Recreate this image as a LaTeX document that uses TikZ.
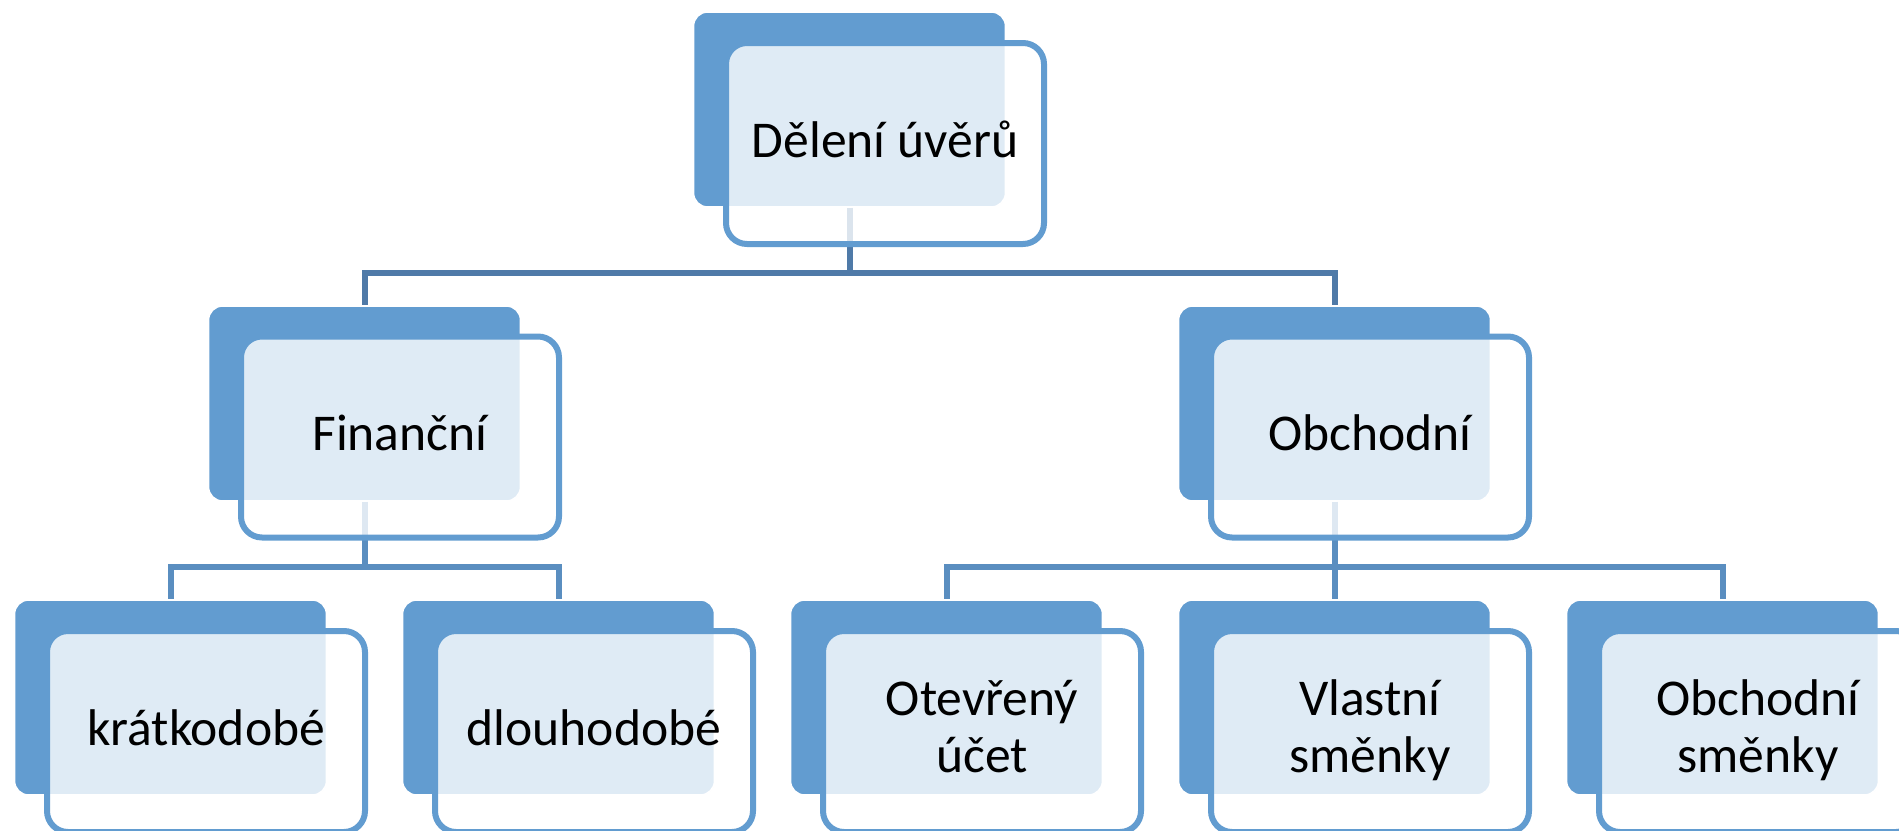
\documentclass[tikz,border=0pt]{standalone}
\usepackage{fontspec}
\setmainfont{Carlito}
\definecolor{boxblue}{RGB}{98,156,208}
\definecolor{linktop}{RGB}{79,122,168}
\definecolor{linkmid}{RGB}{90,142,192}
\newcommand{\twolines}[2]{\raisebox{0pt}[12pt][28.5pt]{\begin{tabular}[t]{@{}c@{}}#1\\#2\end{tabular}}}
\tikzset{
  backbox/.style={rectangle, rounded corners=7pt, fill=boxblue, draw=white, line width=0.8pt,
    minimum width=156pt, minimum height=97.5pt, inner sep=0pt},
  frontbox/.style={rectangle, rounded corners=10.5pt, draw=boxblue, line width=3pt,
    fill=white, fill opacity=0.8, text opacity=1, draw opacity=1,
    minimum width=159pt, minimum height=100.5pt, inner sep=0pt,
    font=\fontsize{25.8pt}{28.5pt}\selectfont},
  oneline/.style={text height=13.5pt, text depth=0pt},
  linkA/.style={draw=linktop, line width=3pt},
  linkB/.style={draw=linkmid, line width=3pt}
}
\begin{document}
\begin{tikzpicture}[x=0.5pt,y=-0.5pt]
\useasboundingbox (0,0) rectangle (1899,830);
\clip (0,0) rectangle (1899,830);
% back boxes
\node[backbox] (topb) at (849.5,109.5) {};
\node[backbox] (finb) at (364.5,403.5) {};
\node[backbox] (obcb) at (1334.5,403.5) {};
\node[backbox] (krab) at (170.5,697.5) {};
\node[backbox] (dlob) at (558.5,697.5) {};
\node[backbox] (oteb) at (946.5,697.5) {};
\node[backbox] (vlab) at (1334.5,697.5) {};
\node[backbox] (osmb) at (1722.5,697.5) {};
% bus coordinates
\coordinate (bus1) at (849.5,273);
\coordinate (bus2) at (364.5,567);
\coordinate (bus3) at (1334.5,567);
% connectors
\draw[linkA] (topb.south) -- (bus1) -| (finb.north);
\draw[linkA] (bus1) -| (obcb.north);
\draw[linkB] (finb.south) -- (bus2) -| (krab.north);
\draw[linkB] (bus2) -| (dlob.north);
\draw[linkB] (obcb.south) -- (bus3) -| (oteb.north);
\draw[linkB] (bus3) -- (vlab.north);
\draw[linkB] (bus3) -| (osmb.north);
% front boxes
\node[frontbox, oneline] (top) at (885,143.5) {Dělení úvěrů};
\node[frontbox, oneline] (fin) at (400,437) {Finanční};
\node[frontbox, oneline] (obc) at (1370,437) {Obchodní};
\node[frontbox, oneline] (kra) at (206,731.5) {krátkodobé};
\node[frontbox, oneline] (dlo) at (594,731.5) {dlouhodobé};
\node[frontbox] (ote) at (982,731.5) {\twolines{Otevřený}{účet}};
\node[frontbox] (vla) at (1370,731.5) {\twolines{Vlastní}{směnky}};
\node[frontbox] (osm) at (1758,731.5) {\twolines{Obchodní}{směnky}};
\end{tikzpicture}
\end{document}
